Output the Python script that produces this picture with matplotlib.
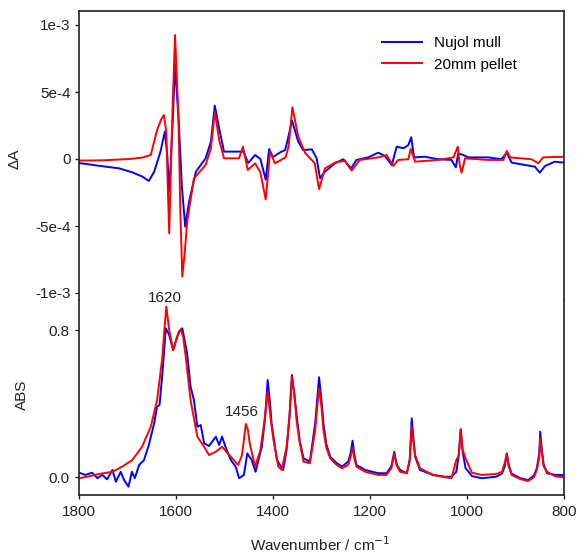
import matplotlib
matplotlib.use("Agg")
import matplotlib.pyplot as plt
import numpy as np

plt.rcParams['font.family'] = ['Liberation Sans', 'DejaVu Sans']

# ---------------- data ----------------
# Difference spectrum (top panel), wavenumber in cm-1, dA in units of 1e-3
dA_nujol_wn = [1800, 1760, 1717, 1690, 1670, 1656, 1645, 1632, 1623, 1618, 1614, 1611, 1606, 1602,
               1594, 1588, 1581, 1573, 1559, 1539, 1528, 1520, 1511, 1501, 1470, 1461, 1451, 1437,
               1426, 1415, 1408, 1400, 1385, 1375, 1369, 1361, 1348, 1338, 1320, 1310, 1303, 1293,
               1272, 1255, 1239, 1228, 1204, 1183, 1169, 1155, 1145, 1131, 1121, 1115, 1109, 1087,
               1059, 1032, 1023, 1018, 1008, 997, 956, 929, 918, 908, 880, 860, 850, 839, 819, 800]
dA_nujol = [-0.03, -0.05, -0.07, -0.10, -0.13, -0.164, -0.095, 0.055, 0.204, 0.03, -0.244, -0.045,
            0.35, 0.707, 0.254, -0.2, -0.505, -0.318, -0.095, 0.005, 0.13, 0.398, 0.229, 0.055,
            0.055, 0.055, -0.03, 0.03, 0.0, -0.155, 0.075, 0.015, 0.05, 0.067, 0.154, 0.288, 0.13,
            0.067, 0.072, 0.005, -0.144, -0.095, -0.032, -0.002, -0.07, -0.007, 0.012, 0.047,
            0.022, -0.045, 0.092, 0.08, 0.104, 0.162, 0.012, 0.017, -0.002, -0.007, -0.062, 0.042,
            0.03, 0.012, 0.012, -0.002, 0.047, -0.027, -0.045, -0.057, -0.102, -0.052, -0.02, -0.027]

dA_pellet_wn = [1800, 1750, 1697, 1670, 1652, 1639, 1630, 1625, 1620, 1617, 1614, 1611, 1606, 1602,
                1595, 1591, 1587, 1582, 1577, 1563, 1539, 1528, 1520, 1511, 1501, 1470, 1462, 1452,
                1437, 1426, 1415, 1406, 1396, 1374, 1368, 1360, 1348, 1334, 1314, 1305, 1293, 1272,
                1252, 1238, 1221, 1183, 1166, 1152, 1142, 1121, 1116, 1107, 1059, 1028, 1019, 1015,
                1011, 1004, 956, 925, 918, 911, 867, 853, 843, 800]
dA_pellet = [-0.012, -0.01, 0.0, 0.01, 0.03, 0.216, 0.3, 0.328, 0.204, -0.2, -0.555, -0.12, 0.5,
             0.925, 0.328, -0.4, -0.878, -0.7, -0.468, -0.144, -0.045, 0.08, 0.353, 0.142, 0.005,
             0.005, 0.092, -0.082, -0.032, -0.1, -0.303, 0.055, -0.032, 0.012, 0.092, 0.386, 0.167,
             0.047, -0.032, -0.226, -0.07, -0.027, -0.012, -0.087, -0.007, 0.012, 0.03, -0.052,
             -0.007, -0.002, 0.075, -0.02, -0.007, 0.012, 0.092, -0.045, -0.102, 0.005, -0.007,
             -0.007, 0.06, 0.012, -0.002, -0.032, 0.012, 0.017]

# Absorbance spectrum (bottom panel)
abs_nujol_wn = [1800, 1787, 1773, 1762, 1752, 1742, 1731, 1724, 1714, 1707, 1698, 1691, 1685, 1676,
                1666, 1656, 1645, 1639, 1634, 1628, 1621, 1614, 1606, 1594, 1587, 1577, 1570, 1563,
                1556, 1549, 1542, 1532, 1518, 1511, 1505, 1498, 1487, 1477, 1470, 1460, 1453, 1444,
                1436, 1423, 1416, 1411, 1406, 1403, 1392, 1379, 1372, 1366, 1361, 1356, 1351, 1345,
                1337, 1324, 1313, 1309, 1305, 1300, 1296, 1290, 1282, 1270, 1258, 1245, 1240, 1236,
                1232, 1228, 1210, 1183, 1166, 1156, 1150, 1145, 1138, 1124, 1118, 1114, 1110, 1107,
                1097, 1070, 1045, 1032, 1022, 1017, 1013, 1009, 1003, 990, 970, 940, 928, 922, 918,
                914, 908, 890, 874, 862, 856, 851, 849, 846, 842, 835, 818, 800]
abs_nujol = [0.025, 0.013, 0.025, -0.005, 0.013, -0.011, 0.04, -0.024, 0.03, -0.015, -0.051, 0.03,
             -0.005, 0.067, 0.094, 0.176, 0.294, 0.384, 0.393, 0.566, 0.81, 0.774, 0.692, 0.792,
             0.81, 0.674, 0.493, 0.42, 0.275, 0.284, 0.185, 0.17, 0.221, 0.176, 0.221, 0.166,
             0.094, 0.058, -0.005, 0.013, 0.13, 0.094, 0.03, 0.166, 0.33, 0.529, 0.4, 0.294, 0.094,
             0.04, 0.148, 0.33, 0.556, 0.45, 0.33, 0.2, 0.103, 0.085, 0.294, 0.42, 0.544, 0.42,
             0.294, 0.18, 0.112, 0.08, 0.058, 0.085, 0.13, 0.199, 0.12, 0.067, 0.04, 0.022, 0.022,
             0.06, 0.139, 0.07, 0.04, 0.022, 0.1, 0.32, 0.2, 0.112, 0.04, 0.013, 0.003, 0.003,
             0.03, 0.12, 0.261, 0.14, 0.05, 0.007, -0.005, 0.003, 0.02, 0.06, 0.13, 0.06, 0.02,
             -0.005, -0.015, 0.01, 0.05, 0.13, 0.248, 0.16, 0.07, 0.022, 0.013, 0.013]

abs_pellet_wn = [1800, 1780, 1759, 1731, 1711, 1690, 1670, 1652, 1639, 1628, 1624, 1620, 1614,
                 1606, 1597, 1590, 1585, 1580, 1570, 1556, 1542, 1532, 1518, 1505, 1487, 1472,
                 1464, 1460, 1456, 1452, 1448, 1437, 1426, 1418, 1411, 1404, 1399, 1389, 1382,
                 1372, 1366, 1361, 1356, 1351, 1345, 1337, 1324, 1313, 1309, 1305, 1300, 1296,
                 1290, 1282, 1270, 1258, 1245, 1240, 1236, 1232, 1228, 1210, 1183, 1166, 1156,
                 1150, 1145, 1138, 1124, 1118, 1114, 1110, 1107, 1097, 1070, 1045, 1032, 1022,
                 1017, 1013, 1009, 1003, 990, 970, 940, 928, 922, 918, 914, 908, 890, 874, 862,
                 856, 851, 849, 846, 842, 835, 818, 800]
abs_pellet = [-0.005, 0.005, 0.018, 0.03, 0.058, 0.094, 0.166, 0.275, 0.42, 0.656, 0.8, 0.928,
              0.8, 0.692, 0.77, 0.805, 0.76, 0.656, 0.42, 0.221, 0.166, 0.121, 0.139, 0.166, 0.112,
              0.067, 0.12, 0.203, 0.29, 0.26, 0.185, 0.058, 0.148, 0.3, 0.466, 0.3, 0.203, 0.058,
              0.04, 0.166, 0.33, 0.547, 0.45, 0.3, 0.19, 0.085, 0.076, 0.257, 0.38, 0.484, 0.38,
              0.257, 0.16, 0.103, 0.07, 0.049, 0.067, 0.11, 0.163, 0.1, 0.058, 0.03, 0.013, 0.013,
              0.05, 0.127, 0.065, 0.03, 0.022, 0.09, 0.275, 0.18, 0.121, 0.049, 0.013, 0.0, -0.005,
              0.094, 0.12, 0.261, 0.15, 0.103, 0.025, 0.013, 0.018, 0.03, 0.08, 0.13, 0.07, 0.013,
              -0.01, -0.02, 0.0, 0.04, 0.11, 0.212, 0.14, 0.06, 0.03, 0.005, 0.0]

dA_ticks = [-1e-3, -5e-4, 0, 5e-4, 1e-3]
dA_ticklabels = ["-1e-3", "-5e-4", "0", "5e-4", "1e-3"]
abs_ticks = [0.0, 0.8]
abs_ticklabels = ["0.0", "0.8"]
x_ticks = [1800, 1600, 1400, 1200, 1000, 800]

legend_labels = ["Nujol mull", "20mm pellet"]
annot_labels = ["1620", "1456"]
annot_pos = [(1622, 0.975), (1465, 0.357)]

# ---------------- figure ----------------
W, H = 579, 554
fig = plt.figure(figsize=(W / 100, H / 100), dpi=100)

left_px, right_px = 79, 564
top_px, mid_px, bot_px = 11, 300, 495.3

def frac_rect(y0, y1):
    return [left_px / W, 1 - y1 / H, (right_px - left_px) / W, (y1 - y0) / H]

ax_top = fig.add_axes(frac_rect(top_px, mid_px))
ax_bot = fig.add_axes(frac_rect(mid_px, bot_px), sharex=ax_top)

blue = '#0000ff'
red = '#ff0000'
lw = 1.4
fs = 11

l1, = ax_top.plot(dA_nujol_wn, np.array(dA_nujol) * 1e-3, color=blue, lw=lw, solid_joinstyle='round')
l2, = ax_top.plot(dA_pellet_wn, np.array(dA_pellet) * 1e-3, color=red, lw=lw, solid_joinstyle='round')
ax_bot.plot(abs_nujol_wn, abs_nujol, color=blue, lw=lw, solid_joinstyle='round')
ax_bot.plot(abs_pellet_wn, abs_pellet, color=red, lw=lw, solid_joinstyle='round')

ax_top.set_xlim(1800, 800)
ax_top.set_ylim(-(mid_px - 159) / 134 * 1e-3, (159 - top_px) / 134 * 1e-3)
ax_bot.set_ylim(-(bot_px - 477.3) / 183.9, (477.3 - mid_px) / 183.9)

for ax in (ax_top, ax_bot):
    for s in ax.spines.values():
        s.set_linewidth(1.2)
        s.set_color('#222222')
ax_top.spines['bottom'].set_visible(False)
ax_bot.spines['top'].set_visible(False)

ax_top.set_yticks(dA_ticks)
ax_top.set_yticklabels(dA_ticklabels)
ax_top.tick_params(axis='x', which='both', bottom=False, labelbottom=False)
ax_top.tick_params(axis='y', direction='out', length=3, width=1, labelsize=fs, colors='#222222', pad=3)

ax_bot.set_yticks(abs_ticks)
ax_bot.set_yticklabels(abs_ticklabels)
ax_bot.set_xticks(x_ticks)
ax_bot.set_xticklabels([str(t) for t in x_ticks])
ax_bot.tick_params(axis='both', direction='out', length=3, width=1, labelsize=fs, colors='#222222', pad=4)

fig.text(15 / W, 1 - 159 / H, "ΔA", rotation=90, ha='center', va='center', fontsize=fs, color='#222222')
fig.text(22 / W, 1 - 395 / H, "ABS", rotation=90, ha='center', va='center', fontsize=fs, color='#222222')
fig.text(320 / W, 1 - 545 / H, "Wavenumber / cm$^{-1}$", ha='center', va='center', fontsize=fs, color='#222222')

for lab, (xx, yy) in zip(annot_labels, annot_pos):
    ax_bot.text(xx, yy, lab, ha='center', va='center', fontsize=fs, color='#222222', clip_on=False)

leg = ax_top.legend([l1, l2], legend_labels, loc='upper right', frameon=False, fontsize=fs,
                    bbox_to_anchor=((523 - left_px) / (right_px - left_px), 1 - (30 - top_px) / (mid_px - top_px)),
                    handlelength=2.6, handletextpad=0.8, labelspacing=0.5, borderaxespad=0)

fig.savefig("out.png", dpi=100)
